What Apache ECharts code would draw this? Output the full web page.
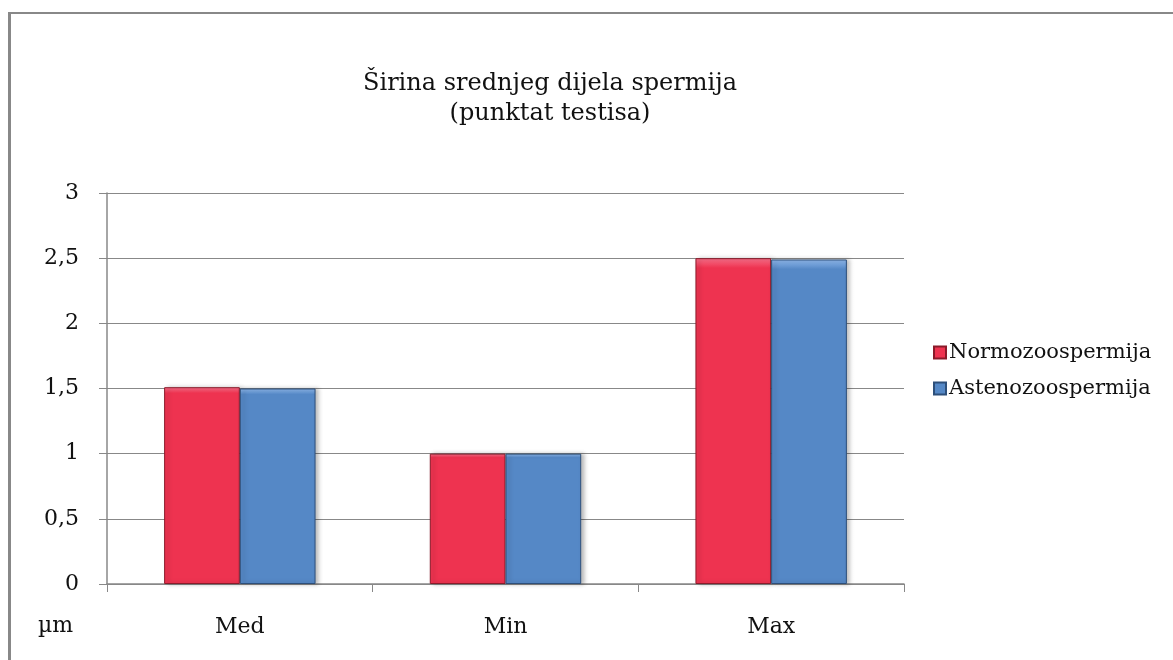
<!DOCTYPE html>
<html>
<head>
<meta charset="utf-8">
<script src="https://cdn.jsdelivr.net/npm/echarts@6/dist/echarts.min.js"></script>
<style>
html,body{margin:0;padding:0;background:#fff;}
#chart{width:1173px;height:660px;}
</style>
</head>
<body>
<div id="chart"></div>
<script>
const categories = ['Med', 'Min', 'Max'];
const normo = [1.51, 1.0, 2.5];
const asteno = [1.50, 1.0, 2.49];
const yTicks = ['0', '0,5', '1', '1,5', '2', '2,5', '3'];
const seriesNames = ['Normozoospermija', 'Astenozoospermija'];

const FONT = '"DejaVu Serif", "Liberation Serif", serif';

function barStyle(base, light, dark) {
  return {
    color: new echarts.graphic.LinearGradient(0, 0, 0, 1, [
      {offset: 0, color: light},
      {offset: 0.03, color: base},
      {offset: 1, color: base}
    ]),
    borderColor: dark,
    borderWidth: 1,
    shadowColor: 'rgba(0,0,0,0.25)',
    shadowBlur: 4,
    shadowOffsetX: 3,
    shadowOffsetY: 0
  };
}

const chart = echarts.init(document.getElementById('chart'));
chart.setOption({
  animation: false,
  backgroundColor: '#fff',
  title: {
    text: 'Širina srednjeg dijela spermija\n(punktat testisa)',
    left: 545,
    top: 64,
    textAlign: 'center',
    textStyle: {fontFamily: FONT, fontSize: 24, fontWeight: 'normal', color: '#111', lineHeight: 30}
  },
  legend: {
    orient: 'vertical',
    left: 928,
    top: 337,
    itemWidth: 12,
    itemHeight: 12,
    itemGap: 15,
    icon: 'rect',
    data: seriesNames,
    textStyle: {fontFamily: FONT, fontSize: 21, color: '#111', padding: [0, 0, 0, -2]}
  },
  grid: {left: 107, right: 269, top: 193, bottom: 76},
  xAxis: {
    type: 'category',
    data: categories,
    axisLine: {lineStyle: {color: '#888', width: 1.5}},
    axisTick: {show: true, length: 8, lineStyle: {color: '#888'}},
    axisLabel: {fontFamily: FONT, fontSize: 22, color: '#111', margin: 32}
  },
  yAxis: {
    type: 'value',
    min: 0, max: 3, interval: 0.5,
    axisLine: {show: true, lineStyle: {color: '#888', width: 1.5}},
    axisTick: {show: true, length: 8, lineStyle: {color: '#888'}},
    splitLine: {lineStyle: {color: '#888', width: 1.2}},
    axisLabel: {
      fontFamily: FONT, fontSize: 22, color: '#111', margin: 28,
      formatter: (v) => yTicks[Math.round(v / 0.5)]
    }
  },
  graphic: [
    {type: 'line', shape: {x1: 8, y1: 13, x2: 1173, y2: 13}, style: {stroke: '#888', lineWidth: 2}},
    {type: 'line', shape: {x1: 9.5, y1: 12, x2: 9.5, y2: 660}, style: {stroke: '#888', lineWidth: 3}},
    {type: 'text', left: 38, top: 615, style: {text: 'µm', font: '22px ' + FONT, fill: '#111'}}
  ],
  series: [
    {
      name: seriesNames[0], type: 'bar', data: normo,
      barGap: '0%', barCategoryGap: '43%',
      itemStyle: barStyle('#EE3350', '#F8708A', '#8a1a2a')
    },
    {
      name: seriesNames[1], type: 'bar', data: asteno,
      itemStyle: barStyle('#5588C6', '#8FB8EC', '#2d4f7a')
    }
  ]
});
</script>
</body>
</html>
